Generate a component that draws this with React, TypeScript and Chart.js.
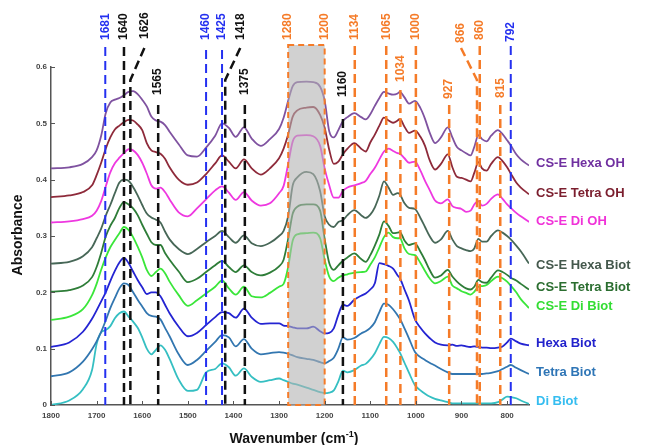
import React, { useEffect, useRef } from "react";
import { Chart, registerables } from "chart.js";

Chart.register(...registerables);

// ---------- DATA ----------
const wavenumbers = [
  1800, 1760, 1730, 1710, 1700, 1690, 1680, 1670, 1660, 1650,
  1640, 1630, 1620, 1610, 1600, 1590, 1580, 1570, 1560, 1550,
  1540, 1520, 1500, 1480, 1460, 1440, 1425, 1410, 1395, 1377,
  1360, 1340, 1320, 1300, 1290, 1280, 1270, 1260, 1240, 1225,
  1210, 1200, 1190, 1180, 1170, 1160, 1150, 1135, 1120, 1110,
  1100, 1090, 1080, 1070, 1060, 1050, 1040, 1035, 1025, 1015,
  1002, 990, 980, 970, 958, 945, 930, 920, 910, 900,
  890, 880, 872, 863, 855, 845, 835, 820, 810, 800,
  792, 780, 770, 752,
];

const csEHexaOH = [
  .420, .422, .428, .440, .452, .478, .518, .537, .542, .545,
  .550, .556, .557, .552, .542, .530, .512, .505, .503, .497,
  .485, .463, .443, .441, .457, .478, .500, .492, .476, .493,
  .473, .460, .472, .490, .510, .540, .566, .573, .574, .573,
  .565, .540, .486, .475, .488, .504, .511, .518, .511, .507,
  .516, .531, .545, .556, .553, .551, .553, .556, .546, .535,
  .540, .527, .508, .484, .465, .475, .493, .475, .458, .452,
  .447, .443, .458, .479, .472, .468, .478, .488, .481, .470,
  .461, .445, .436, .425,
];

const csETetraOH = [
  .369, .372, .378, .390, .408, .430, .455, .475, .489, .496,
  .502, .506, .505, .498, .488, .465, .452, .449, .446, .437,
  .422, .400, .391, .395, .410, .429, .443, .432, .420, .436,
  .420, .409, .420, .438, .455, .480, .512, .523, .528, .529,
  .515, .492, .453, .428, .432, .445, .455, .465, .455, .450,
  .466, .480, .496, .510, .505, .501, .505, .508, .494, .483,
  .487, .476, .460, .435, .418, .428, .445, .422, .405, .403,
  .400, .397, .412, .431, .420, .416, .428, .440, .433, .422,
  .411, .395, .386, .374,
];

const csEDiOH = [
  .324, .326, .330, .336, .345, .362, .388, .413, .429, .439,
  .447, .454, .452, .444, .430, .411, .390, .384, .386, .378,
  .365, .342, .335, .349, .365, .381, .388, .377, .364, .378,
  .363, .354, .358, .376, .389, .428, .468, .478, .479, .477,
  .460, .420, .390, .368, .368, .380, .386, .390, .394, .398,
  .410, .421, .436, .450, .455, .451, .447, .446, .438, .430,
  .432, .416, .398, .382, .363, .358, .365, .353, .350, .348,
  .343, .345, .356, .362, .354, .357, .366, .374, .366, .356,
  .350, .341, .335, .325,
];

const csEHexaBiot = [
  .251, .254, .264, .280, .296, .313, .336, .355, .376, .395,
  .400, .398, .387, .372, .355, .340, .333, .329, .324, .308,
  .294, .277, .268, .277, .289, .300, .309, .298, .288, .301,
  .287, .282, .288, .300, .309, .335, .390, .404, .414, .410,
  .380, .335, .320, .316, .325, .328, .337, .346, .337, .332,
  .338, .351, .372, .397, .386, .373, .376, .374, .358, .350,
  .348, .332, .316, .300, .288, .294, .309, .294, .282, .278,
  .275, .273, .278, .295, .290, .290, .300, .310, .306, .300,
  .294, .283, .273, .251,
];

const csETetraBiot = [
  .201, .204, .212, .227, .245, .270, .299, .318, .332, .350,
  .360, .356, .349, .337, .320, .304, .289, .284, .284, .270,
  .258, .237, .218, .224, .236, .248, .256, .245, .236, .248,
  .236, .230, .235, .246, .258, .295, .340, .352, .356, .356,
  .345, .295, .252, .240, .248, .256, .262, .269, .259, .254,
  .266, .283, .303, .326, .318, .305, .306, .307, .292, .284,
  .287, .272, .257, .240, .226, .230, .240, .228, .219, .212,
  .207, .205, .210, .222, .218, .217, .226, .239, .236, .231,
  .226, .221, .215, .205,
];

const csEDiBiot = [
  .151, .157, .170, .195, .215, .240, .262, .280, .293, .305,
  .316, .311, .298, .281, .262, .240, .229, .236, .242, .234,
  .219, .195, .176, .186, .198, .210, .221, .207, .196, .210,
  .193, .191, .199, .210, .215, .245, .292, .303, .305, .306,
  .296, .258, .228, .220, .226, .230, .232, .235, .236, .237,
  .249, .262, .280, .298, .306, .298, .296, .296, .278, .268,
  .266, .252, .238, .225, .216, .220, .228, .212, .207, .202,
  .199, .196, .201, .210, .211, .213, .220, .228, .225, .219,
  .212, .200, .188, .172,
];

const hexaBiot = [
  .103, .111, .130, .153, .168, .184, .200, .220, .238, .253,
  .261, .252, .237, .222, .209, .197, .200, .200, .193, .178,
  .163, .139, .122, .128, .142, .156, .165, .163, .155, .171,
  .155, .144, .145, .145, .141, .140, .138, .136, .136, .139,
  .131, .127, .128, .136, .160, .178, .176, .187, .194, .198,
  .205, .216, .252, .250, .247, .242, .230, .225, .205, .185,
  .152, .137, .127, .119, .111, .107, .106, .107, .105, .106,
  .104, .103, .104, .103, .102, .102, .101, .102, .104, .111,
  .118, .113, .109, .106,
];

const tetraBiot = [
  .051, .058, .077, .099, .113, .130, .150, .172, .190, .207,
  .216, .213, .200, .187, .175, .163, .158, .157, .152, .137,
  .122, .090, .071, .080, .096, .112, .124, .120, .104, .117,
  .100, .090, .092, .094, .093, .091, .088, .085, .082, .080,
  .076, .074, .078, .084, .100, .120, .116, .119, .127, .131,
  .137, .147, .165, .180, .178, .170, .159, .153, .136, .118,
  .094, .085, .080, .075, .070, .064, .058, .055, .055, .055,
  .055, .055, .055, .055, .055, .056, .057, .060, .064, .068,
  .071, .066, .062, .055,
];

const diBiot = [
  .000, .008, .028, .062, .108, .129, .133, .140, .154, .163,
  .166, .157, .148, .137, .120, .100, .090, .098, .106, .098,
  .082, .045, .025, .027, .058, .064, .074, .067, .052, .065,
  .050, .041, .044, .047, .044, .041, .038, .036, .031, .027,
  .023, .021, .022, .026, .042, .061, .058, .062, .070, .073,
  .081, .092, .108, .121, .119, .112, .100, .093, .075, .057,
  .035, .026, .020, .015, .011, .008, .005, .003, .003, .003,
  .003, .003, .003, .003, .003, .003, .003, .005, .010, .015,
  .014, .012, .008, .002,
];

const seriesNames = [
  "CS-E Hexa OH", "CS-E Tetra OH", "CS-E Di OH",
  "CS-E Hexa Biot", "CS-E Tetra Biot", "CS-E Di Biot",
  "Hexa Biot", "Tetra Biot", "Di Biot",
];
const seriesValues = [
  csEHexaOH, csETetraOH, csEDiOH,
  csEHexaBiot, csETetraBiot, csEDiBiot,
  hexaBiot, tetraBiot, diBiot,
];

const xTicks = [1800, 1700, 1600, 1500, 1400, 1300, 1200, 1100, 1000, 900, 800];
const yTicks = [0, 0.1, 0.2, 0.3, 0.4, 0.5, 0.6];

const bluePeaks = [1681, 1460, 1425, 792];
const blackPeaks = [1640, 1626, 1565, 1418, 1375, 1160];
const orangePeaks = [1134, 1065, 1034, 1000, 927, 866, 860, 815];
const shadedBand = [1280, 1200];

// ---------- STYLES / LAYOUT ----------
const lineColors = [
  "#7f52a0", "#8e2a3a", "#ee38e0",
  "#476757", "#2e7d38", "#3ae63a",
  "#2424d2", "#3276b0", "#35bfc2",
];
const labelColors = [
  "#7030a0", "#7b1e2e", "#f032d8",
  "#44584c", "#2b6e30", "#33dd33",
  "#2222cc", "#2e75b6", "#35bdf0",
];
// legend label vertical position, in absorbance units
const labelLevels = [0.4286, 0.3764, 0.325, 0.2482, 0.2087, 0.1743, 0.11, 0.0585, 0.0059];

const BLUE = "#2430f0";
const BLACK = "#111111";
const ORANGE = "#f57b28";

// per-annotation layout: labelBottom (px), lineTop (px), dx label offset when a lead line is used
const annLayout: Record<number, { lb: number; top: number; dx?: number }> = {
  1681: { lb: 40, top: 47 },
  1640: { lb: 40, top: 47 },
  1626: { lb: 39, top: 48, dx: 14 },
  1565: { lb: 95, top: 105 },
  1460: { lb: 40, top: 50 },
  1425: { lb: 40, top: 50 },
  1418: { lb: 40, top: 48, dx: 15 },
  1375: { lb: 95, top: 105 },
  1160: { lb: 97, top: 105 },
  1134: { lb: 40, top: 46 },
  1065: { lb: 40, top: 46 },
  1034: { lb: 82, top: 90 },
  1000: { lb: 40, top: 46 },
  927: { lb: 99, top: 105 },
  866: { lb: 43, top: 48, dx: -16 },
  860: { lb: 40, top: 46 },
  815: { lb: 98, top: 105 },
  792: { lb: 42, top: 46 },
};

const FONT = "'Liberation Sans', Arial, sans-serif";

const annotationPlugin = {
  id: "ftirAnnotations",
  afterDatasetsDraw(chart: any) {
    const { ctx, chartArea, scales } = chart;
    const x = scales.x;
    const y = scales.y;
    const bottom = chartArea.bottom;
    ctx.save();

    // shaded band
    const bx1 = x.getPixelForValue(shadedBand[0]);
    const bx2 = x.getPixelForValue(shadedBand[1]);
    const bandTop = 45;
    ctx.fillStyle = "rgba(178,178,178,0.6)";
    ctx.fillRect(bx1, bandTop, bx2 - bx1, bottom - bandTop);
    ctx.setLineDash([6, 4]);
    ctx.lineWidth = 2;
    ctx.strokeStyle = ORANGE;
    ctx.strokeRect(bx1, bandTop, bx2 - bx1, bottom - bandTop);

    const drawLabel = (text: string, px: number, lb: number, color: string) => {
      ctx.save();
      ctx.translate(px, lb);
      ctx.rotate(-Math.PI / 2);
      ctx.fillStyle = color;
      ctx.font = `bold 12px ${FONT}`;
      ctx.textAlign = "left";
      ctx.textBaseline = "middle";
      ctx.fillText(text, 0, 0);
      ctx.restore();
    };

    // band labels
    drawLabel(String(shadedBand[0]), bx1, 40, ORANGE);
    drawLabel(String(shadedBand[1]), bx2, 40, ORANGE);

    const groups: [number[], string, number][] = [
      [bluePeaks, BLUE, 2],
      [blackPeaks, BLACK, 2.5],
      [orangePeaks, ORANGE, 2.5],
    ];
    for (const [vals, color, lw] of groups) {
      for (const v of vals) {
        const px = x.getPixelForValue(v);
        const L = annLayout[v];
        ctx.strokeStyle = color;
        ctx.lineWidth = lw;
        ctx.setLineDash([9, 5]);
        ctx.beginPath();
        if (L.dx) {
          ctx.moveTo(px + L.dx, L.top);
          ctx.lineTo(px, 80);
          ctx.lineTo(px, bottom);
        } else {
          ctx.moveTo(px, L.top);
          ctx.lineTo(px, bottom);
        }
        ctx.stroke();
        drawLabel(String(v), px + (L.dx || 0), L.lb, color);
      }
    }
    ctx.setLineDash([]);

    // inward tick marks
    ctx.strokeStyle = "#555";
    ctx.lineWidth = 1;
    for (const t of xTicks) {
      const px = Math.round(x.getPixelForValue(t)) + 0.5;
      ctx.beginPath();
      ctx.moveTo(px, bottom);
      ctx.lineTo(px, bottom - 4);
      ctx.stroke();
    }
    for (const t of yTicks) {
      const py = Math.round(y.getPixelForValue(t)) + 0.5;
      ctx.beginPath();
      ctx.moveTo(chartArea.left, py);
      ctx.lineTo(chartArea.left + 4, py);
      ctx.stroke();
    }

    // series labels
    ctx.font = `bold 13px ${FONT}`;
    ctx.textAlign = "left";
    ctx.textBaseline = "middle";
    seriesNames.forEach((name, i) => {
      ctx.fillStyle = labelColors[i];
      ctx.fillText(name, chartArea.right + 7, y.getPixelForValue(labelLevels[i]));
    });

    // axis titles
    ctx.fillStyle = "#111";
    ctx.font = `bold 14px ${FONT}`;
    ctx.save();
    ctx.translate(18, (chartArea.top + chartArea.bottom) / 2 - 1);
    ctx.rotate(-Math.PI / 2);
    ctx.textAlign = "center";
    ctx.textBaseline = "middle";
    ctx.fillText("Absorbance", 0, 0);
    ctx.restore();

    const main = "Wavenumber (cm";
    const sup = "-1";
    const close = ")";
    ctx.font = `bold 14px ${FONT}`;
    const wMain = ctx.measureText(main).width;
    const wClose = ctx.measureText(close).width;
    ctx.font = `bold 9px ${FONT}`;
    const wSup = ctx.measureText(sup).width;
    const total = wMain + wSup + wClose;
    const cx = (chartArea.left + chartArea.right) / 2 + 4;
    let sx = cx - total / 2;
    const base = 443;
    ctx.textAlign = "left";
    ctx.textBaseline = "alphabetic";
    ctx.font = `bold 14px ${FONT}`;
    ctx.fillText(main, sx, base);
    sx += wMain;
    ctx.font = `bold 9px ${FONT}`;
    ctx.fillText(sup, sx, base - 6);
    sx += wSup;
    ctx.font = `bold 14px ${FONT}`;
    ctx.fillText(close, sx, base);

    ctx.restore();
  },
};

export default function App() {
  const canvasRef = useRef<HTMLCanvasElement | null>(null);

  useEffect(() => {
    document.body.style.margin = "0";
    const canvas = canvasRef.current;
    if (!canvas) return;

    const datasets = seriesValues.map((vals, i) => ({
      label: seriesNames[i],
      data: wavenumbers.map((w, j) => ({ x: w, y: vals[j] })),
      borderColor: lineColors[i],
      backgroundColor: lineColors[i],
      borderWidth: 1.8,
      pointRadius: 0,
      cubicInterpolationMode: "monotone" as const,
      fill: false,
    }));

    const chart = new Chart(canvas, {
      type: "line",
      data: { datasets },
      options: {
        animation: false,
        responsive: true,
        maintainAspectRatio: false,
        devicePixelRatio: 1,
        layout: { padding: { top: 67, right: 125, left: 0, bottom: 0 } },
        plugins: {
          legend: { display: false },
          tooltip: { enabled: false },
          title: { display: false },
        },
        scales: {
          x: {
            type: "linear",
            reverse: true,
            min: 752,
            max: 1800,
            afterBuildTicks: (scale: any) => {
              scale.ticks = xTicks.map((v) => ({ value: v }));
            },
            afterFit: (scale: any) => {
              scale.height = 40;
            },
            grid: { display: true, drawOnChartArea: false, drawTicks: false },
            border: { display: true, color: "#555", width: 1.5 },
            ticks: {
              color: "#444",
              font: { family: FONT, size: 8, weight: "bold" },
              padding: 6,
              maxRotation: 0,
              autoSkip: false,
              callback: (v: any) => String(v),
            },
          },
          y: {
            type: "linear",
            min: 0,
            max: 0.6,
            afterBuildTicks: (scale: any) => {
              scale.ticks = yTicks.map((v) => ({ value: v }));
            },
            afterFit: (scale: any) => {
              scale.width = 51;
            },
            grid: { display: true, drawOnChartArea: false, drawTicks: false },
            border: { display: true, color: "#555", width: 1.5 },
            ticks: {
              color: "#444",
              font: { family: FONT, size: 8, weight: "bold" },
              padding: 4,
              callback: (v: any) => String(Number(Number(v).toFixed(1))),
            },
          },
        },
      },
      plugins: [annotationPlugin],
    });

    return () => chart.destroy();
  }, []);

  return (
    <div style={{ position: "relative", width: 654, height: 445, background: "#fff" }}>
      <canvas ref={canvasRef} />
    </div>
  );
}
